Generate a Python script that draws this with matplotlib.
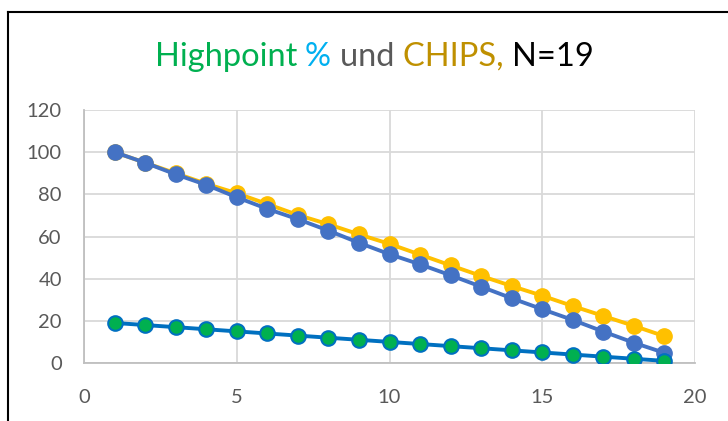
import numpy as np
import matplotlib
matplotlib.use('Agg')
import matplotlib.pyplot as plt
from matplotlib.lines import Line2D

x = list(range(1, 20))
chips_a = [100, 95, 90, 85, 80.5, 75.4, 70.2, 65.8, 61, 56.5, 51.4, 46.3, 41.3, 36.5, 31.9, 27, 22.3, 17.6, 12.7]
chips_b = [100, 95, 89.5, 84.5, 78.6, 73.1, 68.2, 62.8, 57, 51.6, 46.8, 41.6, 36.2, 30.7, 25.5, 20.4, 14.9, 9.6, 4.8]
highpoint = [19, 18, 17, 16, 15, 14, 13, 12, 11, 10, 9, 8, 7, 6, 5, 4, 3, 2, 1]

title_parts = [('Highpoint ', '#00B050'), ('% ', '#00B0F0'), ('und ', '#595959'),
               ('CHIPS, ', '#BF9000'), ('N=19', '#000000')]

plt.rcParams['font.family'] = ['Lato', 'DejaVu Sans']

fig = plt.figure(figsize=(7.28, 4.21), dpi=100)
ax = fig.add_axes([84/728, 1-363/421, (695-84)/728, (363-110)/421])

ax.plot(x, chips_a, color='#FFC000', lw=2.8, marker='o', ms=11, zorder=3)
ax.plot(x, chips_b, color='#4472C4', lw=2.8, marker='o', ms=11, zorder=4)
ax.plot(x, highpoint, color='#0070C0', lw=2.8, marker='o', ms=10.5,
        markerfacecolor='#00B050', markeredgecolor='#0070C0', markeredgewidth=1.5, zorder=5)

ax.set_xlim(0, 20)
ax.set_ylim(0, 120)
ax.set_xticks([0, 5, 10, 15, 20])
ax.set_yticks(range(0, 121, 20))
ax.grid(color='#D9D9D9', lw=1.3)
ax.set_axisbelow(True)
for s in ['top', 'right']:
    ax.spines[s].set_visible(False)
for s in ['left', 'bottom']:
    ax.spines[s].set_color('#BFBFBF')
    ax.spines[s].set_linewidth(1.3)
ax.tick_params(length=0, labelsize=14.5, labelcolor='#595959')
ax.tick_params(axis='x', pad=19)
ax.tick_params(axis='y', pad=16)

# multicolour title
fig.canvas.draw()
r = fig.canvas.get_renderer()
texts = []
for s, c in title_parts:
    texts.append(fig.text(0, 1-57/421, s, color=c, fontsize=23.5, va='center', ha='left'))
widths = [t.get_window_extent(r).width for t in texts]
xpos = (728 - sum(widths)) / 2 + 10
for t, w in zip(texts, widths):
    t.set_x(xpos/728)
    xpos += w

# frame around chart
fig.add_artist(Line2D([8/728, 1], [1-12/421, 1-12/421], color='black', lw=1.5))
fig.add_artist(Line2D([8/728, 8/728], [0, 1-12/421], color='black', lw=1.5))

fig.savefig('out.png', dpi=100)
